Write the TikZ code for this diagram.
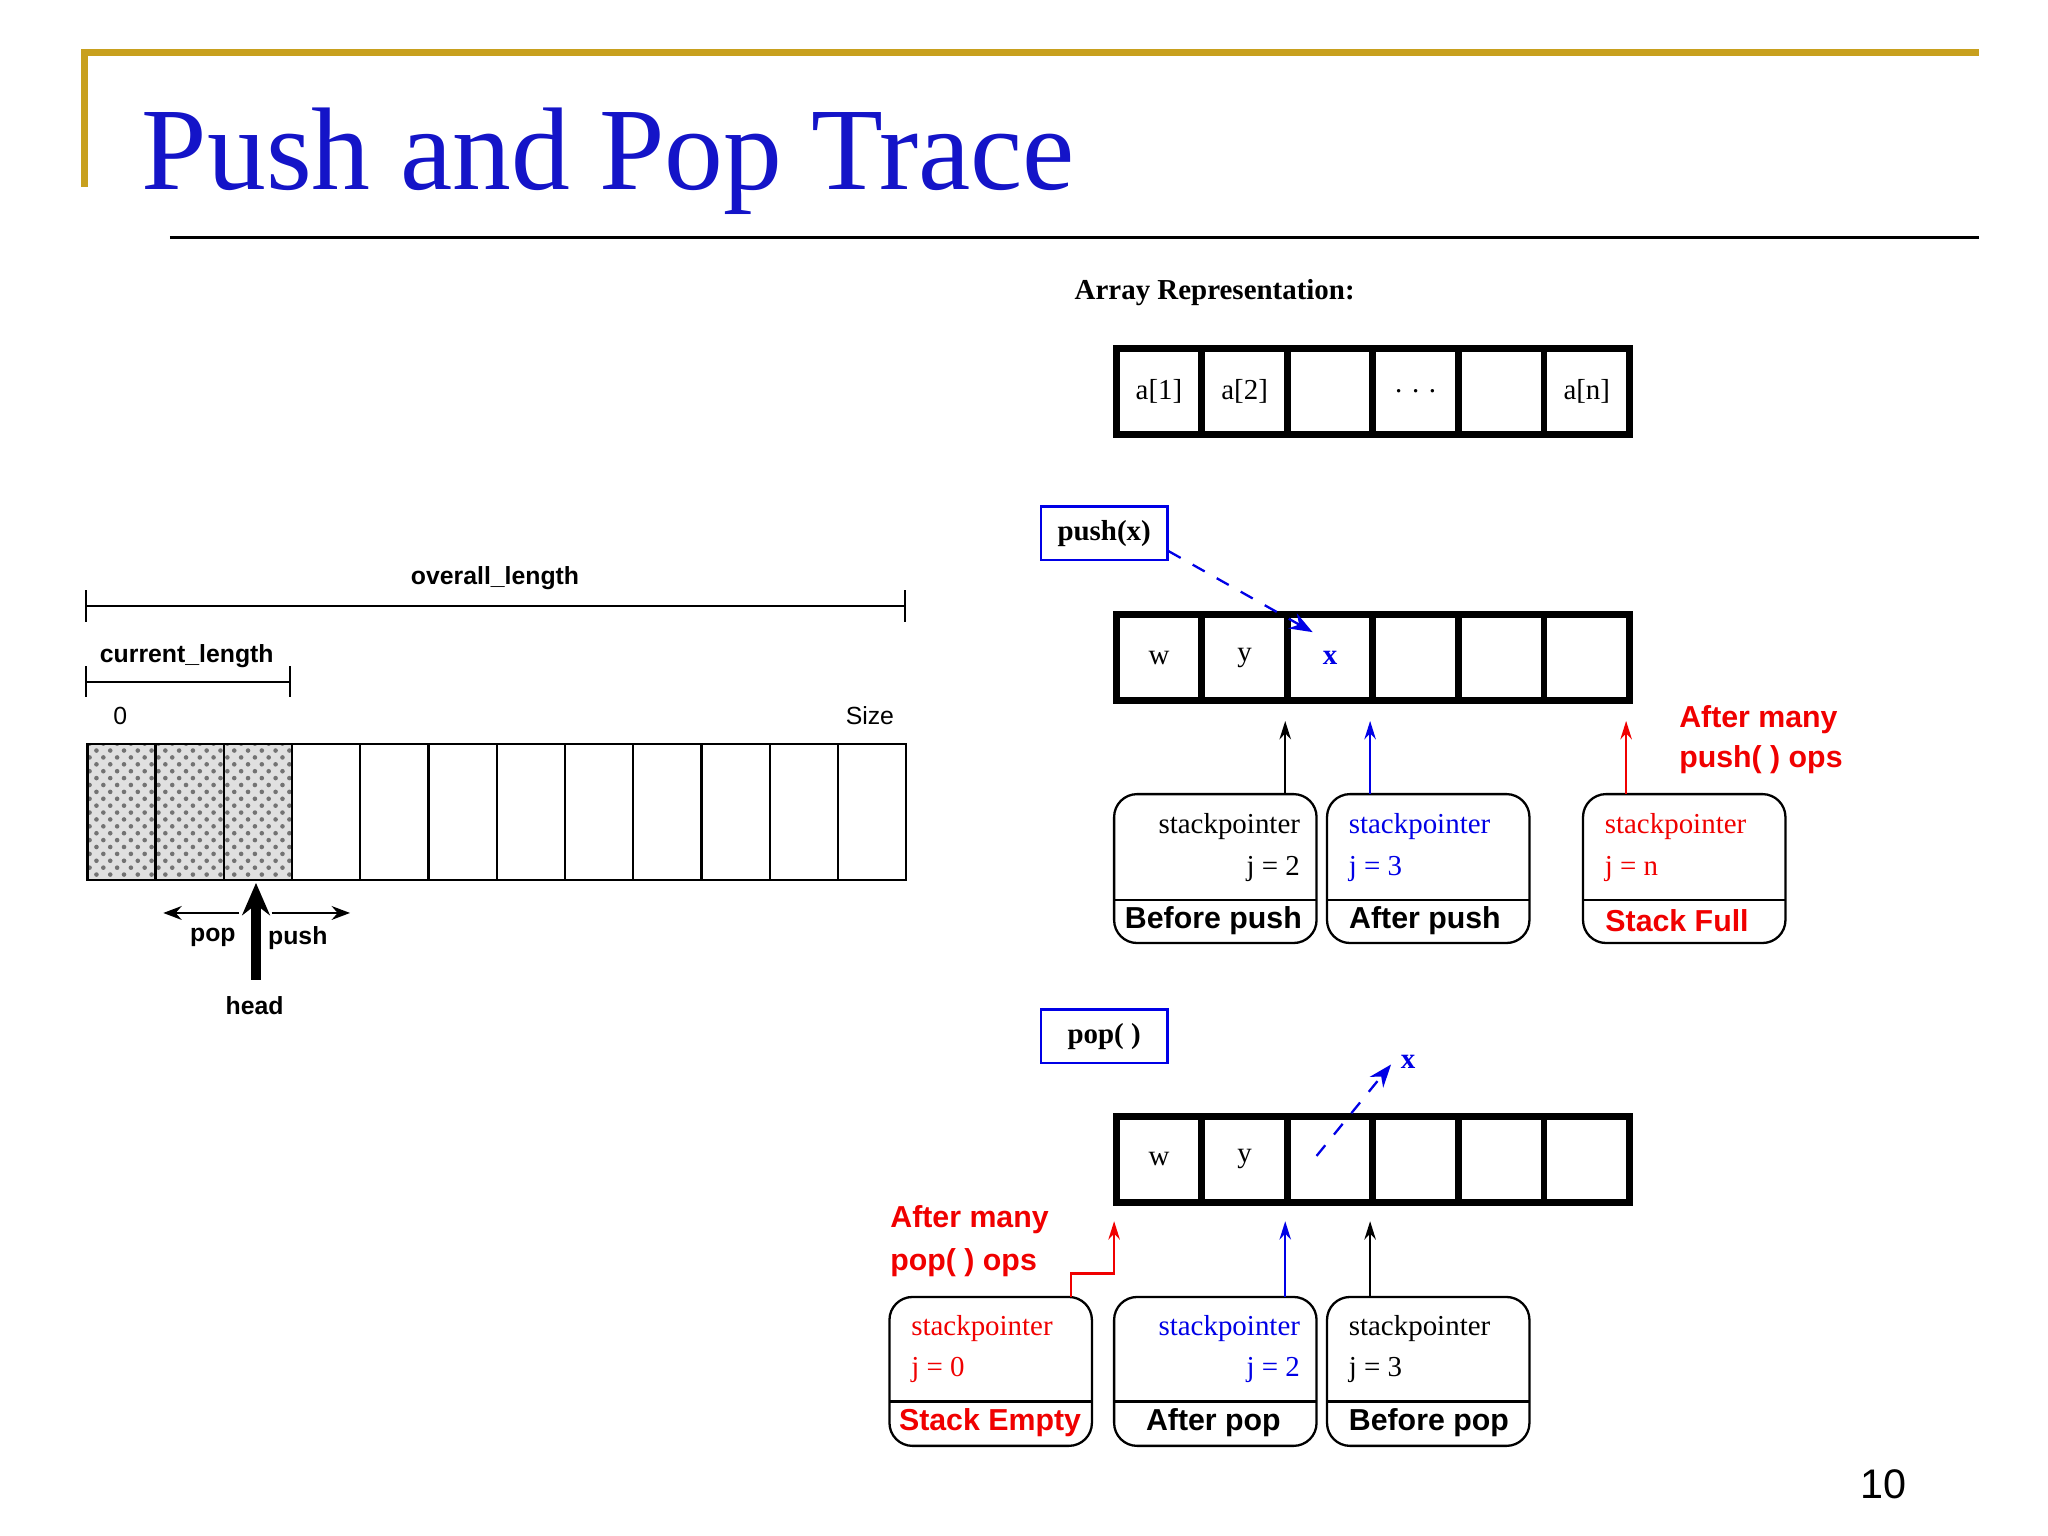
\documentclass[tikz,border=0pt]{standalone}
\usepackage{fontspec}
\setmainfont{Liberation Serif}
\setsansfont{Liberation Sans}
\usetikzlibrary{patterns,arrows.meta}
\definecolor{gold}{RGB}{200,160,30}
\definecolor{tblue}{RGB}{20,20,200}
\definecolor{dblue}{RGB}{0,0,230}
\definecolor{dred}{RGB}{240,0,0}
\begin{document}
\begin{tikzpicture}[x=0.01cm,y=-0.01cm,
  cell/.style={draw,line width=1.5pt,minimum width=65.5*0.01cm,minimum height=66*0.01cm,inner sep=0,font=\rmfamily\fontsize{6.3}{7}\selectfont,anchor=north west},
  lcell/.style={draw,line width=0.5pt,minimum width=52.25*0.01cm,minimum height=104*0.01cm,inner sep=0,anchor=north west},
  lbl/.style={font=\sffamily\bfseries\fontsize{5.4}{6}\selectfont,inner sep=0},
  big/.style={font=\sffamily\bfseries\fontsize{6.6}{8}\selectfont,inner sep=0},
  sp/.style={font=\rmfamily\fontsize{6.3}{7}\selectfont,inner sep=0},
  opbox/.style={draw=dblue,line width=0.5pt,minimum width=97*0.01cm,minimum height=41*0.01cm,font=\rmfamily\bfseries\fontsize{6.3}{7}\selectfont,anchor=north west,inner sep=0},
  up/.style={-{Stealth[length=4pt,width=2.5pt]},line width=0.5pt},
  rbox/.style={draw,rounded corners=5pt,line width=0.5pt}]
\useasboundingbox (0,0) rectangle (1568,1176);
\fill[white] (0,0) rectangle (1568,1176);
% header
\draw[gold,line width=1.5pt] (65,143) -- (65,40) -- (1515,40);
\node[anchor=base west,inner sep=0,text=tblue,font=\fontsize{25.6}{28}\selectfont] (title) at (108,145) {Push and Pop Trace};
\draw[line width=0.7pt] (130,182) -- (1515,182);
\node[anchor=base east,inner sep=0,font=\sffamily\fontsize{9}{10}\selectfont] (num) at (1460,1147) {10};
% array representation
\node[font=\rmfamily\bfseries\fontsize{6.3}{7}\selectfont,inner sep=0] (ar) at (930,224) {Array Representation:};
\foreach \t [count=\i from 0] in {a[1],a[2],{},. . .,{},a[n]}
  \node[cell] (a\i) at (852+\i*65.5,264) {\t};
% push
\node[opbox] (push) at (796,387) {push(x)};
\foreach \t [count=\i from 0] in {w,y,{\textcolor{dblue}{\bfseries x}},{},{},{}}
  \node[cell] (p\i) at (852+\i*65.5,468) {\t};
\draw[dblue,dashed,line width=0.5pt,-{Stealth[length=5pt]}] (push.east|-0,422) -- (1005,484);
\draw[rbox] (853,608) rectangle (1008,722); \draw[line width=0.5pt] (853,689) -- (1008,689);
\node[sp,anchor=east] (b1a) at (996,633) {stackpointer};
\node[sp,anchor=east] (b1b) at (996,665) {j = 2};
\node[big] (b1c) at (929,705) {Before push};
\draw[rbox] (1016,608) rectangle (1171,722); \draw[line width=0.5pt] (1016,689) -- (1171,689);
\node[sp,anchor=west,text=dblue] (b2a) at (1032,633) {stackpointer};
\node[sp,anchor=west,text=dblue] (b2b) at (1032,665) {j = 3};
\node[big] (b2c) at (1091,705) {After push};
\draw[rbox] (1212,608) rectangle (1367,722); \draw[line width=0.5pt] (1212,689) -- (1367,689);
\node[sp,anchor=west,text=dred] (b3a) at (1228,633) {stackpointer};
\node[sp,anchor=west,text=dred] (b3b) at (1228,665) {j = n};
\node[big,text=dred] (b3c) at (1284,705) {Stack Full};
\draw[up] (984,608) -- (984,552);
\draw[up,dblue] (1049,608) -- (1049,552);
\draw[up,dred] (1245,608) -- (1245,552);
\node[big,text=dred,anchor=west] (am1) at (1285,551) {After many};
\node[big,text=dred,anchor=west] (am2) at (1285,582) {push( ) ops};
% pop
\node[opbox] (pop) at (796,772) {pop( )};
\foreach \t [count=\i from 0] in {w,y,{},{},{},{}}
  \node[cell] (q\i) at (852+\i*65.5,852) {\t};
\coordinate (xs) at (1008,885);
\draw[dblue,dashed,line width=0.5pt,-{Stealth[length=5pt]}] (xs) -- (1065,815);
\node[font=\rmfamily\bfseries\fontsize{6.3}{7}\selectfont,text=dblue,inner sep=0] (xx) at (1078,813) {x};
\draw[rbox] (681,993) rectangle (836,1107); \draw[line width=0.5pt] (681,1073) -- (836,1073);
\node[sp,anchor=west,text=dred] (c1a) at (697,1017) {stackpointer};
\node[sp,anchor=west,text=dred] (c1b) at (697,1049) {j = 0};
\node[big,text=dred] (c1c) at (758,1089) {Stack Empty};
\draw[rbox] (853,993) rectangle (1008,1107); \draw[line width=0.5pt] (853,1073) -- (1008,1073);
\node[sp,anchor=east,text=dblue] (c2a) at (996,1017) {stackpointer};
\node[sp,anchor=east,text=dblue] (c2b) at (996,1049) {j = 2};
\node[big] (c2c) at (929,1089) {After pop};
\draw[rbox] (1016,993) rectangle (1171,1107); \draw[line width=0.5pt] (1016,1073) -- (1171,1073);
\node[sp,anchor=west] (c3a) at (1032,1017) {stackpointer};
\node[sp,anchor=west] (c3b) at (1032,1049) {j = 3};
\node[big] (c3c) at (1094,1089) {Before pop};
\draw[up,dred] (820,993) -- (820,975) -- (853,975) -- (853,935);
\draw[up,dblue] (984,993) -- (984,935);
\draw[up] (1049,993) -- (1049,935);
\node[big,text=dred,anchor=west] (pm1) at (681,934) {After many};
\node[big,text=dred,anchor=west] (pm2) at (681,967) {pop( ) ops};
% left diagram
\node[lbl] (ol) at (379,443) {overall\_length};
\draw[line width=0.5pt] (66,464) -- (693,464) (66,452) -- (66,476) (693,452) -- (693,476);
\node[lbl] (cl) at (143,502) {current\_length};
\draw[line width=0.5pt] (66,522) -- (222,522) (66,510) -- (66,534) (222,510) -- (222,534);
\node[font=\sffamily\fontsize{5.4}{6}\selectfont,inner sep=0] (z) at (92,548) {0};
\node[font=\sffamily\fontsize{5.4}{6}\selectfont,inner sep=0] (sz) at (666,548) {Size};
\foreach \i in {0,1,2} \fill[black!12] (66+\i*52.25,569) rectangle (66+\i*52.25+52.25,673);
\foreach \i in {0,1,2} \fill[pattern=crosshatch dots,pattern color=black!55] (66+\i*52.25,569) rectangle (66+\i*52.25+52.25,673);
\foreach \i in {0,...,11} \node[lcell] (l\i) at (66+\i*52.25,569) {};
\coordinate (hd) at (196,750);
\draw[line width=2.2pt,-{Stealth[length=7pt,width=6pt]}] (hd) -- (196,676);
\node[lbl] (head) at (195,770) {head};
\draw[line width=0.5pt,-{Stealth[length=4pt]}] (183,699) -- (125,699);
\draw[line width=0.5pt,-{Stealth[length=4pt]}] (208,699) -- (268,699);
\node[lbl] (popl) at (163,718) {pop};
\node[lbl] (pushl) at (228,718) {push};
\end{tikzpicture}
\end{document}
